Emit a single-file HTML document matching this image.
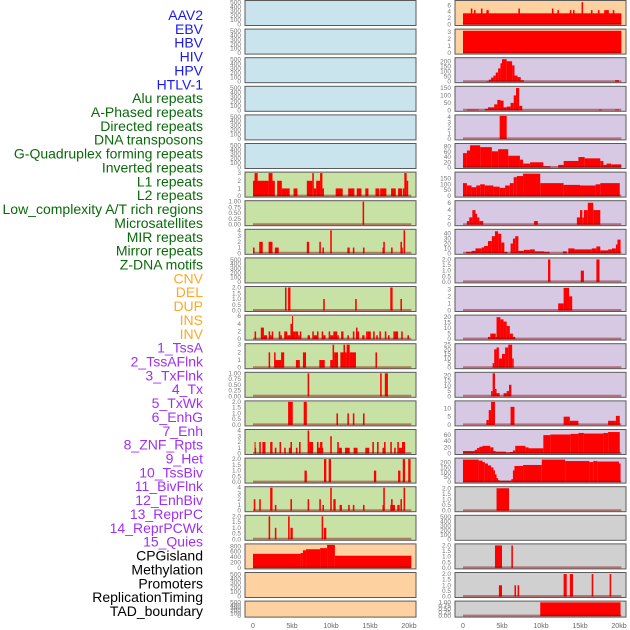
<!DOCTYPE html>
<html><head><meta charset="utf-8"><style>
html,body{margin:0;padding:0;background:#fff;}
svg{display:block;font-family:"Liberation Sans",sans-serif;}
</style></head><body>
<svg id="chart" width="630" height="630" viewBox="0 0 630 630" xmlns="http://www.w3.org/2000/svg"></svg>
<script>
const rowLabels=["AAV2","EBV","HBV","HIV","HPV","HTLV-1","Alu repeats","A-Phased repeats","Directed repeats","DNA transposons","G-Quadruplex forming repeats","Inverted repeats","L1 repeats","L2 repeats","Low_complexity A/T rich regions","Microsatellites","MIR repeats","Mirror repeats","Z-DNA motifs","CNV","DEL","DUP","INS","INV","1_TssA","2_TssAFlnk","3_TxFlnk","4_Tx","5_TxWk","6_EnhG","7_Enh","8_ZNF_Rpts","9_Het","10_TssBiv","11_BivFlnk","12_EnhBiv","13_ReprPC","14_ReprPCWk","15_Quies","CPGisland","Methylation","Promoters","ReplicationTiming","TAD_boundary"];
const labelColors=[...Array(6).fill("#1a1aee"),...Array(13).fill("#0a6a0a"),...Array(5).fill("#ffa826"),...Array(15).fill("#a030f0"),...Array(5).fill("#000")];
const xTicks=[0,5,10,15,20];
const xTickLabels=["0","5kb","10kb","15kb","20kb"];
const E500=[0,100,200,300,400,500];
const leftYmax=[520,520,520,520,520,520,3,1,4,520,2,6,3,1,2,4,2,4,2,850,520,520];
const leftTicks=[E500,E500,E500,E500,E500,E500,[0,1,2,3],[0,0.25,0.5,0.75,1],[0,1,2,3,4],E500,[0,0.5,1,1.5,2],[0,2,4,6],[0,1,2,3],[0,0.25,0.5,0.75,1],[0,0.5,1,1.5,2],[0,1,2,3,4],[0,0.5,1,1.5,2],[0,1,2,3,4],[0,0.5,1,1.5,2],[0,200,400,600,800],E500,E500];
const leftBars=[[],[],[],[],[],[],
[[0,0.5,2],[0.2,0.6,3],[0.5,2,2],[2,2.5,3],[2.5,2.8,2],[3.1,3.7,2],[3.7,4.7,1],[5.2,5.7,1],[6.9,7.6,2],[7.6,7.8,3],[7.8,8.1,1],[8.1,8.6,2],[8.6,8.9,3],[8.9,9.1,1],[10.6,11.5,1],[12.2,13,1],[13.3,13.9,1],[14.4,14.8,1],[15.7,16.2,1],[16.3,17.1,1],[17.7,18.3,1],[18.6,19.1,1],[19.2,19.4,1],[19.4,19.7,3],[19.7,19.9,2]],
[[14.05,14.25,1]],
[[0,0.2,1],[0.8,1.25,2],[2,2.5,2],[2.8,3.3,1],[6.9,7.2,2],[8.5,8.7,2],[8.9,9.1,1],[9.9,10.1,4],[12.1,12.4,1],[12.8,13,1],[14.1,14.3,1],[16.6,16.8,1],[16.7,16.9,2],[17.7,17.9,1],[18.9,19.1,2],[19,19.2,1],[19.3,19.5,4]],
[],
[[4.1,4.3,2],[4.5,4.8,2],[9,9.2,1],[13.1,13.3,1],[17.6,17.9,2],[18.9,19.1,1]],
[[0.2,0.4,2],[1,1.4,3],[1.4,1.8,1],[2,2.2,2],[2.2,2.4,1],[2.4,2.6,2],[3.3,3.5,2],[3.5,3.7,1],[4,4.4,2],[4.4,4.8,1],[4.8,5,4],[5,5.1,6],[5.1,5.4,2],[5.4,5.8,2],[5.8,6,1],[6,6.2,2],[7,7.3,1],[7.6,7.8,2],[7.8,8.2,1],[8.2,8.4,2],[8.8,9,2],[9,9.3,1],[9.7,9.9,2],[9.9,10.3,1],[10.3,10.8,2],[10.8,11,1],[11.3,11.6,2],[12.1,12.3,1],[12.8,13,2],[13.2,13.4,3],[13.4,13.6,2],[14,14.3,1],[14.5,14.7,2],[14.7,15.1,2],[15.4,15.6,2],[15.8,16,1],[16.2,16.4,2],[16.9,17.1,2],[17.3,17.5,1],[18,18.2,2],[18.2,18.6,2],[19,19.2,2],[19.8,20,1]],
[[2,2.2,2],[2.7,2.9,2],[2.8,3.6,1],[3.6,4,2],[5.5,6,1],[6.4,6.8,2],[8.5,9.2,1],[9.9,10.2,1],[10.2,10.4,3],[10.4,10.9,2],[11.2,11.6,2],[11.6,11.8,3],[11.8,12,2],[12,12.4,3],[12.4,13.2,2],[15.7,15.9,2]],
[[7,7.2,1],[16.3,16.5,1],[16.9,17.3,1]],
[[4.5,5.1,2],[6.5,6.9,2],[10.7,10.9,1],[12.1,12.3,1],[12.8,13,1],[14.1,14.3,1]],
[[0.2,0.4,1],[0.2,0.3,2],[0.8,1,2],[1.2,1.6,2],[2.2,2.5,2],[2.8,3,1],[3.4,3.6,2],[4,4.2,1],[4.6,5,1],[4.8,5,2],[5.5,5.7,1],[5.9,6.1,2],[7,7.2,4],[7.2,7.7,2],[8.2,8.4,2],[8.4,9,1],[8.6,8.9,2],[9.9,10.1,3],[10.8,11,2],[11,11.4,1],[11.8,12.4,1],[12.9,13.4,1],[14.4,14.9,1],[15.3,15.5,2],[15.9,16.1,2],[16.6,17,1],[16.8,17,2],[17.6,17.8,2],[18.1,18.3,1],[18.5,18.7,2],[18.7,19.2,1],[19.1,19.5,2]],
[[6.6,6.9,1],[9.1,9.4,2],[9.7,10,2],[15.5,15.8,1],[18.6,18.9,1],[19.2,19.5,2],[19.9,20.2,2]],
[[0.1,0.3,2],[0.8,1,2],[2.2,2.5,4],[2.8,3,1],[4.8,5,2],[7,7.2,2],[8.5,8.7,2],[8.9,9.1,1],[9.9,10.1,4],[10.3,10.6,2],[11.1,11.4,1],[12.2,12.4,1],[12.8,13,1],[14.1,14.3,1],[16.6,16.8,1],[16.7,16.9,4],[17.6,18.2,1],[17.7,17.9,2],[18.5,18.8,1],[18.9,19.1,2],[19.3,19.5,4]],
[[2,2.2,2],[2.8,3,1],[4.5,4.7,2],[4.8,5.1,1],[8.8,9,2],[9.1,9.4,1]],
[[0,6.1,520],[6.1,6.4,550],[6.4,6.8,650],[6.8,8.6,690],[8.6,9.5,730],[9.5,10.5,850],[10.5,20.3,450]],
[],[]];
const rightYmax=[7.2,3.3,225,155,4.2,88,195,6.3,47,2.05,3.25,21,25,22,14,75,235,2.05,520,2.05,2.05,1.02];
const rightTicks=[[0,2,4,6],[0,1,2,3],[0,50,100,150,200],[0,50,100,150],[0,1,2,3,4],[0,20,40,60,80],[0,50,100,150],[0,2,4,6],[0,10,20,30,40],[0,0.5,1,1.5,2],[0,1,2,3],[0,5,10,15,20],[0,5,10,15,20,25],[0,5,10,15,20],[0,5,10],[0,20,40,60],[0,50,100,150,200],[0,0.5,1,1.5,2],E500,[0,0.5,1,1.5,2],[0,0.5,1,1.5,2],[0,0.25,0.5,0.75,1]];
const rightBars=[
[[0,20.3,3.5],[1,1.2,5],[1.4,1.6,4.5],[2.3,2.5,5],[3,3.3,4.5],[7.1,7.3,5],[11.4,11.6,5],[12.1,12.3,4.5],[13.7,13.9,4.5],[14.1,14.3,4.5],[15.2,15.4,7],[16.4,16.6,4.5],[17.3,17.5,4.5],[18.1,18.7,4.5],[19.2,19.4,4.5]],
[[0,20.3,3.2]],
[[3,3.3,5],[3.3,3.6,20],[3.6,3.9,40],[3.9,4.2,60],[4.2,4.5,90],[4.5,4.8,130],[4.8,5,180],[5,5.6,220],[5.6,6.3,200],[6.3,6.6,160],[6.6,7,60],[7,7.4,45],[7.4,7.8,15],[19.5,20,15]],
[[0.5,2,5],[2.8,3.2,10],[3.2,4,20],[4,4.4,40],[4.4,4.8,70],[4.8,5.2,65],[5.2,5.6,20],[5.6,6.1,25],[6.1,6.5,50],[6.5,6.8,100],[6.8,7.2,150],[7.2,7.6,30],[17.4,17.8,5],[19.5,20,5]],
[[4.7,5.6,4.2]],
[[0,0.5,55],[0.5,0.9,65],[0.9,2.2,85],[2.2,3.7,78],[3.7,4.5,62],[4.5,5.8,70],[5.8,7.3,45],[7.3,7.7,30],[7.7,8.6,15],[8.6,10.3,20],[10.3,11.2,5],[12.2,12.9,10],[12.9,14.8,25],[14.8,15.6,40],[15.6,17.6,35],[17.6,18,25],[18,18.4,10],[18.4,19,15],[19,20.3,12]],
[[0,0.5,110],[0.5,1.1,90],[1.1,1.7,75],[1.7,2.2,90],[2.2,2.8,100],[2.8,3.9,90],[3.9,4.7,80],[4.7,5.4,70],[5.4,6,90],[6,6.5,110],[6.5,6.9,160],[6.9,7.7,170],[7.7,9.9,190],[9.9,12.9,110],[12.9,15,95],[15,17,90],[17,17.6,100],[17.6,20.1,110]],
[[0.5,0.8,1],[0.8,1.2,2],[1.2,1.6,4],[1.6,1.8,3],[1.8,2.1,2],[2.1,2.6,1],[9.1,9.6,1],[14.6,15,2],[15,15.3,4],[15.3,15.5,2],[15.5,16,4],[16,16.7,6],[16.7,17.6,4]],
[[0.4,1.1,3],[1.1,1.6,5],[1.6,2.4,10],[2.4,2.7,12],[2.7,3.2,15],[3.2,3.7,25],[3.7,4.1,35],[4.1,4.5,45],[4.5,4.9,40],[4.9,5.3,22],[5.3,5.7,3],[6.1,6.4,20],[6.4,6.7,30],[6.7,7.1,35],[7.1,7.8,5],[7.8,8.6,7],[8.6,9.2,8],[9.2,10.4,4],[10.4,11.1,3],[12.8,13.3,4],[13.5,14.3,10],[14.3,16.5,8],[16.5,17.1,10],[17.1,17.6,14],[17.6,18.6,6],[18.6,19.1,8],[19.1,19.6,10],[19.6,19.8,18],[19.8,20.2,28]],
[[10.9,11.2,2],[15.1,15.5,1],[17.1,17.5,2]],
[[12.2,12.9,1],[12.9,13.6,3.2],[13.6,14,2]],
[[3.2,3.5,2],[3.5,4.2,5],[4.2,4.3,2],[4.3,4.8,20],[4.8,5.2,18],[5.2,5.6,16],[5.6,6,12],[6,6.4,5],[6.4,6.7,2]],
[[3.8,4,5],[4,4.3,20],[4.3,4.6,22],[4.6,5,10],[5,5.4,15],[5.4,5.8,22],[5.8,6.3,25],[6.3,6.5,10]],
[[3.6,3.8,5],[3.8,4.1,22],[4.1,4.3,7],[4.3,4.7,3],[5.2,5.6,3],[5.6,5.9,5],[5.9,6.2,11]],
[[3,3.3,3],[3.3,3.6,9],[3.6,4.1,14],[6.1,6.6,11],[12.9,13.7,5],[13.7,14.8,2.5],[18.6,19.6,2.5],[19.6,20.1,5.5]],
[[0,1.5,8],[1.5,1.8,12],[1.8,2.1,18],[2.1,2.5,22],[2.5,3.5,25],[3.5,3.9,20],[3.9,4.2,8],[4.2,5.5,6],[5.5,6,3],[6,6.4,5],[6.4,6.7,10],[6.7,8,25],[8,8.4,20],[8.4,10.3,17],[10.3,11.2,60],[11.2,13.8,62],[13.8,14.8,64],[14.8,15.5,67],[15.5,18,65],[18,18.6,67],[18.6,20.1,70]],
[[0,2,230],[2,2.5,220],[2.5,2.8,205],[2.8,3.2,190],[3.2,3.6,170],[3.6,3.9,150],[3.9,4.1,120],[4.1,4.3,80],[4.3,4.5,40],[4.5,4.7,20],[4.7,6.2,15],[6.2,6.4,30],[6.4,6.6,120],[6.6,7.7,165],[7.7,10.1,175],[10.1,13.1,230],[13.1,16.2,215],[16.2,16.7,205],[16.7,17.2,215],[17.2,20,210],[20,20.2,190]],
[[4.3,5.9,2]],
[],
[[4.1,5,2],[6.2,6.4,2]],
[[4.6,5,1],[6.6,6.8,1],[7,7.2,1],[12.9,13.3,2],[13.7,14.1,2],[16.5,16.7,2],[18.8,19,2]],
[[9.9,20.2,1]]];

const NS="http://www.w3.org/2000/svg";
const svg=document.getElementById('chart');
function mk(t,a,p){const e=document.createElementNS(NS,t);for(const k in a)e.setAttribute(k,a[k]);(p||svg).appendChild(e);return e;}
function rowTop(i){return 0.5+i*28.6;}
function rowH(i){return i===21?16:25;}
const leftBg=i=>i<6?"#c9e4ec":(i<19?"#c8e2a6":"#fed1a0");
const rightBg=i=>i<2?"#fed1a0":(i<17?"#d7c8e3":"#d0d0d0");
const cols=[{x0:245,x1:416,zero:253,bars:leftBars,ymax:leftYmax,ticks:leftTicks,bg:leftBg,side:"left"},
            {x0:455,x1:626,zero:463,bars:rightBars,ymax:rightYmax,ticks:rightTicks,bg:rightBg,side:"right"}];
const pxPerKb=7.8;
function fmt(v,ticks){const dec=ticks.some(t=>Math.abs(t*100%100)>0 && Math.abs(t*4%1)>0)?2:(ticks.some(t=>t%1!==0)?1:0);
  if(ticks.includes(0.25))return v.toFixed(2);return dec?v.toFixed(1):String(v);}
// labels
rowLabels.forEach((l,i)=>{
  const t=mk('text',{x:203,y:15+i*13.86+5,'text-anchor':'end','font-size':'14',fill:labelColors[i]});
  
  
  t.textContent=l;
});
cols.forEach(c=>{
  const xs=kb=>c.zero+kb*pxPerKb;
  for(let i=0;i<22;i++){
    const top=rowTop(i),h=rowH(i);
    const g=mk('g',{});
    
    
    mk('rect',{x:c.x0,y:top,width:c.x1-c.x0,height:h,fill:c.bg(i),stroke:'#5a5a5a','stroke-width':1},g);
    const bot=top+h-1, ptop=top+1;
    const ys=v=>bot-(v/c.ymax[i])*(bot-ptop);
    const bars=c.bars[i];
    bars.forEach(b=>{
      const r=mk('rect',{x:xs(b[0]),y:ys(b[2]),width:Math.max(1,xs(b[1])-xs(b[0])),height:bot-ys(b[2]),fill:'#ff0000'},g);
      
      
    });
    if(bars.length){
      const bl=mk('line',{x1:xs(0),x2:xs(20.3),y1:bot-0.5,y2:bot-0.5,stroke:'rgba(140,0,0,0.45)','stroke-width':2},g);
      
      
    }
    c.ticks[i].forEach(t=>{
      const tt=mk('text',{x:c.x0-4,y:ys(t)+2,'text-anchor':'end','font-size':'6.5',fill:'#777'},g);
      
      
      tt.textContent=fmt(t,c.ticks[i]);
    });
  }
  xTicks.forEach((k,j)=>{
    const t=mk('text',{x:xs(k),y:628,'text-anchor':'middle','font-size':'7',fill:'#666'});
    
    
    t.textContent=xTickLabels[j];
  });
});
</script>
</body></html>
